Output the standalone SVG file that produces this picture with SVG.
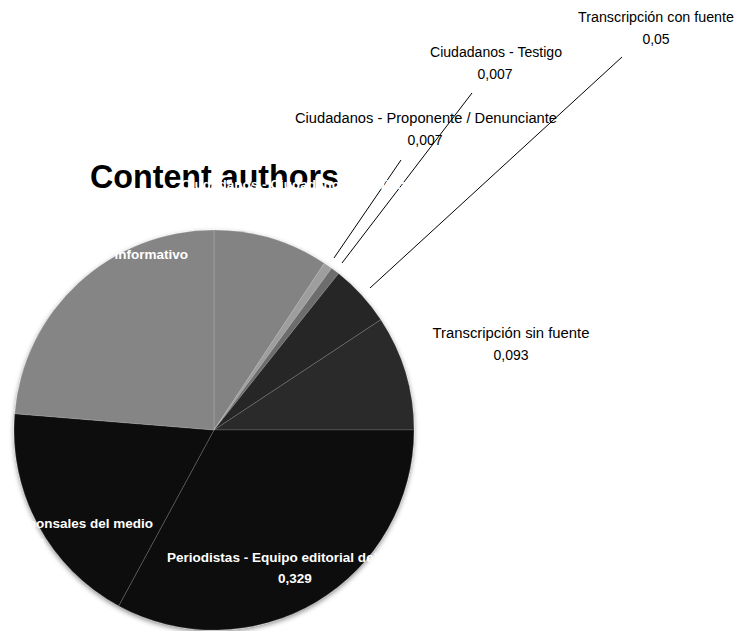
<svg xmlns="http://www.w3.org/2000/svg" width="748" height="631" viewBox="0 0 748 631">
  <defs>
    <filter id="shadow" x="-10%" y="-10%" width="120%" height="120%">
      <feDropShadow dx="0" dy="2" stdDeviation="2.5" flood-color="#000" flood-opacity="0.45"/>
    </filter>
  </defs>
  <style>
    .slice { stroke: #ffffff; stroke-opacity: 0.15; stroke-width: 1; }
    .lbl { font-family: "Liberation Sans", Arial, sans-serif; font-size: 14px; fill: #000; }
    .wlbl { font-family: "Liberation Sans", Arial, sans-serif; font-size: 13.5px; font-weight: bold; fill: #ffffff; }
    .title { font-family: "Liberation Sans", Arial, sans-serif; font-size: 33px; font-weight: bold; fill: #000; }
    .leader { stroke: #000; stroke-width: 1; fill: none; }
  </style>
  <rect width="748" height="631" fill="#ffffff"/>

  <g id="title">
    <text class="title" x="90" y="188" textLength="249" lengthAdjust="spacingAndGlyphs">Content authors</text>
  </g>

  <g id="pie" filter="url(#shadow)">
    <path id="s-ciudadano" class="slice" d="M214,430 L214,230 A200,200 0 0 1 324.3,263.2 Z" fill="#838383"/>
    <path id="s-proponente" class="slice" d="M214,430 L324.3,263.2 A200,200 0 0 1 331.6,268.2 Z" fill="#9e9e9e"/>
    <path id="s-testigo" class="slice" d="M214,430 L331.6,268.2 A200,200 0 0 1 338.6,273.5 Z" fill="#6d6d6d"/>
    <path id="s-con-fuente" class="slice" d="M214,430 L338.6,273.5 A200,200 0 0 1 380.8,319.7 Z" fill="#262626"/>
    <path id="s-sin-fuente" class="slice" d="M214,430 L380.8,319.7 A200,200 0 0 1 414,430 Z" fill="#2b2b2b"/>
    <path id="s-periodistas" class="slice" d="M214,430 L414,430 A200,200 0 0 1 118.7,605.9 Z" fill="#0e0e0e"/>
    <path id="s-corresponsales" class="slice" d="M214,430 L118.7,605.9 A200,200 0 0 1 14.7,413.7 Z" fill="#111111"/>
    <path id="s-informativo" class="slice" d="M214,430 L14.7,413.7 A200,200 0 0 1 214,230 Z" fill="#858585"/>
  </g>

  <g id="connectors">
    <line class="leader" x1="401" y1="160" x2="334" y2="258"/>
    <line class="leader" x1="472" y1="93" x2="342" y2="263"/>
    <line class="leader" x1="622" y1="57" x2="370" y2="288"/>
  </g>

  <g id="node-ciudadano">
    <text class="wlbl" x="181" y="189">Ciudadanos - Ciudadano periodista</text>
  </g>
  <g id="node-informativo">
    <text class="wlbl" x="188" y="259" text-anchor="end">informativo</text>
  </g>
  <g id="node-corresponsales">
    <text class="wlbl" x="153" y="528" text-anchor="end">Corresponsales del medio</text>
    <text class="wlbl" x="45" y="548" text-anchor="end">0,186</text>
  </g>
  <g id="node-periodistas">
    <text class="wlbl" x="167" y="562" textLength="254" lengthAdjust="spacingAndGlyphs">Periodistas - Equipo editorial del medio</text>
    <text class="wlbl" x="295" y="583" text-anchor="middle">0,329</text>
  </g>
  <g id="node-proponente">
    <text class="lbl" x="426" y="123" text-anchor="middle" textLength="262" lengthAdjust="spacingAndGlyphs">Ciudadanos - Proponente / Denunciante</text>
    <text class="lbl" x="425" y="145" text-anchor="middle">0,007</text>
  </g>
  <g id="node-testigo">
    <text class="lbl" x="496" y="57" text-anchor="middle" textLength="132" lengthAdjust="spacingAndGlyphs">Ciudadanos - Testigo</text>
    <text class="lbl" x="495" y="79" text-anchor="middle">0,007</text>
  </g>
  <g id="node-con-fuente">
    <text class="lbl" x="656" y="22" text-anchor="middle" textLength="156" lengthAdjust="spacingAndGlyphs">Transcripción con fuente</text>
    <text class="lbl" x="656" y="44" text-anchor="middle">0,05</text>
  </g>
  <g id="node-sin-fuente">
    <text class="lbl" x="511" y="338" text-anchor="middle" textLength="157" lengthAdjust="spacingAndGlyphs">Transcripción sin fuente</text>
    <text class="lbl" x="511" y="360" text-anchor="middle">0,093</text>
  </g>
</svg>
